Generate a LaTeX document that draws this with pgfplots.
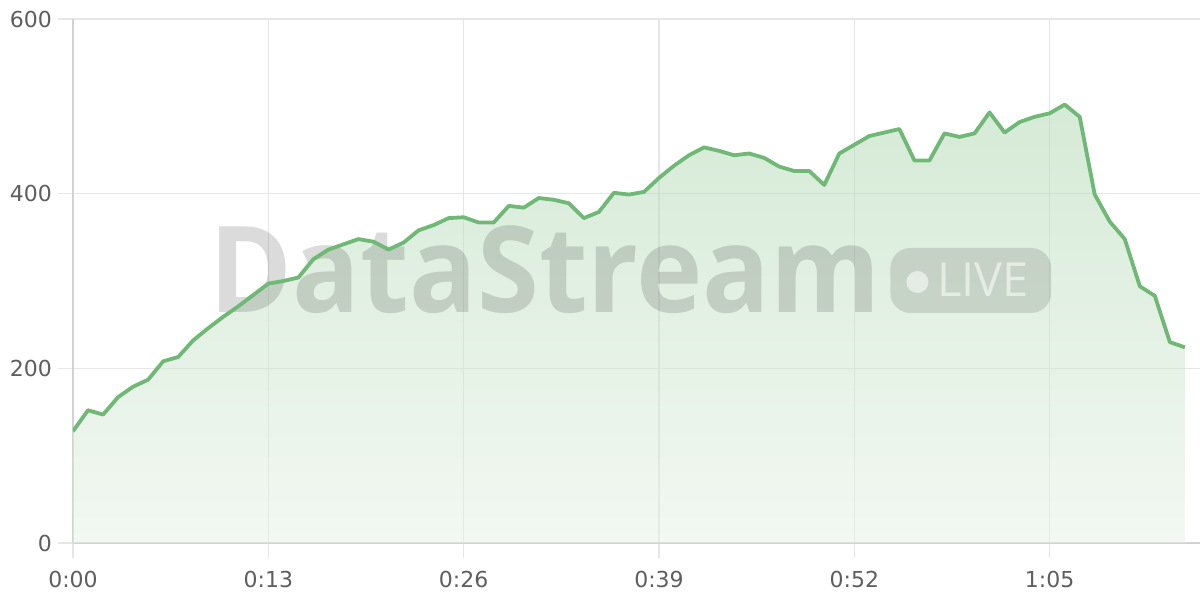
\documentclass[border=0pt]{standalone}
\usepackage{pgfplots}
\pgfplotsset{compat=1.18}
\usepackage{fontspec}
\setmainfont{DejaVu Sans}
\newfontfamily\wmfont{Open Sans}

\definecolor{linegreen}{HTML}{70B875}
\definecolor{filltop}{HTML}{ACD6AE}
\definecolor{fillbot}{HTML}{E6F1E6}
\definecolor{gridgray}{HTML}{E6E6E6}
\definecolor{axisgray}{HTML}{D2D2D2}
\definecolor{labelgray}{HTML}{5E5E5E}

\begin{document}
\begin{tikzpicture}
\path[use as bounding box] (-73pt,-57pt) rectangle (1127pt,543pt);
\begin{axis}[
    at={(0,0)}, anchor=south west,
    scale only axis,
    width=1127pt, height=524pt,
    xmin=0, xmax=75,
    ymin=0, ymax=600,
    axis x line*=bottom,
    axis y line*=left,
    axis line style={axisgray, line width=1.6pt},
    xtick={0,13,26,39,52,65},
    xticklabels={0:00,0:13,0:26,0:39,0:52,1:05},
    ytick={0,200,400,600},
    tick align=outside,
    major tick length=15pt,
    major tick style={gridgray, line width=1.4pt},
    grid=major,
    major grid style={gridgray, line width=1.2pt},
    ticklabel style={font=\fontsize{22}{26}\selectfont, text=labelgray},
    /pgf/number format/assume math mode=true,
    yticklabel style={inner sep=0pt, xshift=-6pt},
    xticklabel style={inner sep=0pt, yshift=-13pt},
]
% shaded area under the line
\addplot[draw=none, fill opacity=0.5, top color=filltop, bottom color=fillbot]
  coordinates {
(0,128) (1,152) (2,147) (3,167) (4,179) (5,187) (6,208) (7,213) (8,232) (9,246)
(10,259) (11,271) (12,284) (13,297) (14,300) (15,304) (16,325) (17,336) (18,342) (19,348)
(20,345) (21,336) (22,344) (23,358) (24,364) (25,372) (26,373) (27,367) (28,367) (29,386)
(30,384) (31,395) (32,393) (33,389) (34,372) (35,379) (36,401) (37,399) (38,402) (39,418)
(40,432) (41,444) (42,453) (43,449) (44,444) (45,446) (46,441) (47,431) (48,426) (49,426)
(50,410) (51,446) (52,456) (53,466) (54,470) (55,474) (56,438) (57,438) (58,469) (59,465)
(60,469) (61,493) (62,470) (63,482) (64,488) (65,492) (66,502) (67,488) (68,399) (69,368)
(70,348) (71,294) (72,283) (73,230) (74,224)
  } \closedcycle;

% watermark
\node[anchor=base west, inner sep=0pt, text=black, text opacity=0.14, xscale=0.935,
      font=\wmfont\bfseries\fontsize{120}{120}\selectfont]
  at (axis cs:9.1,263.4) {DataStream};
\fill[black, fill opacity=0.12, rounded corners=20pt]
  (axis cs:54.4,263.4) rectangle (axis cs:65.1,337.8);
\fill[white, fill opacity=0.55] (axis cs:56.2,298.9) circle[radius=11pt];
\node[anchor=base west, inner sep=0pt, text=white, text opacity=0.55,
      font=\wmfont\fontsize{47}{48}\selectfont]
  at (axis cs:57.5,281.7) {LIVE};

\addplot[linegreen, line width=3.8pt, line join=round]
  coordinates {
(0,128) (1,152) (2,147) (3,167) (4,179) (5,187) (6,208) (7,213) (8,232) (9,246)
(10,259) (11,271) (12,284) (13,297) (14,300) (15,304) (16,325) (17,336) (18,342) (19,348)
(20,345) (21,336) (22,344) (23,358) (24,364) (25,372) (26,373) (27,367) (28,367) (29,386)
(30,384) (31,395) (32,393) (33,389) (34,372) (35,379) (36,401) (37,399) (38,402) (39,418)
(40,432) (41,444) (42,453) (43,449) (44,444) (45,446) (46,441) (47,431) (48,426) (49,426)
(50,410) (51,446) (52,456) (53,466) (54,470) (55,474) (56,438) (57,438) (58,469) (59,465)
(60,469) (61,493) (62,470) (63,482) (64,488) (65,492) (66,502) (67,488) (68,399) (69,368)
(70,348) (71,294) (72,283) (73,230) (74,224)
  };
\end{axis}
\end{tikzpicture}
\end{document}
